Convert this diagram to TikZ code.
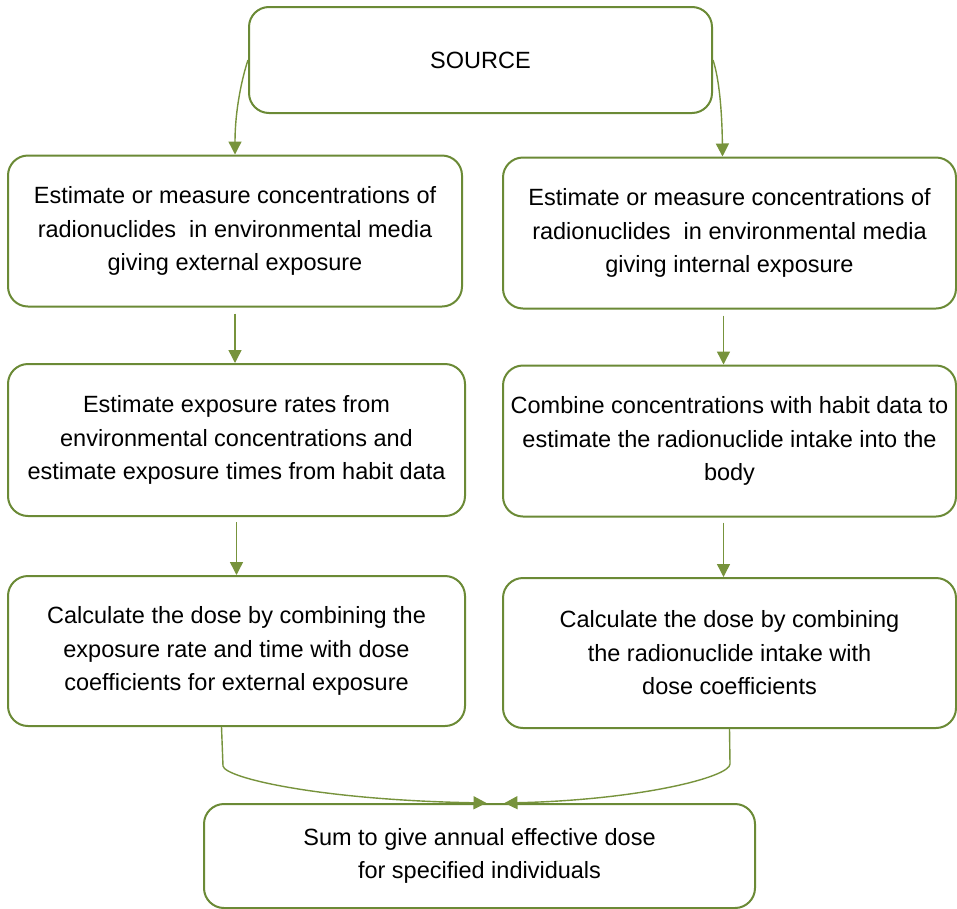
\documentclass[tikz,border=0pt]{standalone}
\usepackage{fontspec}
\setmainfont{Liberation Sans}
\usetikzlibrary{arrows.meta,calc}
\definecolor{boxgreen}{HTML}{6B8A36}
\definecolor{arrgreen}{HTML}{77933C}
\begin{document}
\begin{tikzpicture}[x=1pt,y=-1pt,
  box/.style={draw=boxgreen,line width=2pt,rounded corners=20pt,fill=white,
    align=center,inner sep=0pt,font=\fontsize{23.5}{33.5}\selectfont},
  arr/.style={draw=arrgreen,line width=1.4pt,-{Triangle[length=13pt,width=13pt]}},
  conn/.style={draw=arrgreen,line width=1.4pt}]
\useasboundingbox (0,0) rectangle (957,908);
\fill[white] (0,0) rectangle (957,908);

\node[box,minimum width=463pt,minimum height=106pt] (src) at (480.5,60) {SOURCE};
\node[box,minimum width=454pt,minimum height=151pt] (l1) at (235,231)
  {Estimate or measure concentrations of\\radionuclides\ \ in environmental media\\giving external exposure};
\node[box,minimum width=453pt,minimum height=151pt] (r1) at (729.5,233)
  {Estimate or measure concentrations of\\radionuclides\ \ in environmental media\\giving internal exposure};
\node[box,minimum width=457pt,minimum height=152pt] (l2) at (236.5,440)
  {Estimate exposure rates from\\environmental concentrations and\\estimate exposure times from habit data};
\node[box,minimum width=453pt,minimum height=151pt] (r2) at (729.5,441)
  {Combine concentrations with habit data to\\estimate the radionuclide intake into the\\body};
\node[box,minimum width=457pt,minimum height=150pt] (l3) at (236.5,651)
  {Calculate the dose by combining the\\exposure rate and time with dose\\coefficients for external exposure};
\node[box,minimum width=453pt,minimum height=150pt] (r3) at (729.5,653)
  {Calculate the dose by combining\\the radionuclide intake with\\dose coefficients};
\node[box,minimum width=551pt,minimum height=104pt] (bot) at (479.5,856)
  {Sum to give annual effective dose\\for specified individuals};

% source to first row
\draw[arr] (src.west) .. controls (242,78) and (235,110) .. (l1.north);
\coordinate (r1in) at ($(r1.north)+(-7,0)$);
\draw[arr] (src.east) .. controls (719,78) and (722,110) .. (r1in);

% vertical steps
\draw[arr,shorten <=6pt] (l1.south) -- (l1.south |- l2.north);
\draw[arr,shorten <=6pt] ($(r1.south)+(-6,0)$) -- ($(r2.north)+(-6,0)$);
\draw[arr,shorten <=5pt] (l2.south) -- (l2.south |- l3.north);
\draw[arr,shorten <=5pt] ($(r2.south)+(-6,0)$) -- ($(r3.north)+(-6,0)$);

% to bottom box
\coordinate (lbend) at (223,766);
\coordinate (rbend) at (730,764);
\coordinate (ltip) at ($(bot.north)+(7,0)$);
\coordinate (rtip) at ($(bot.north)+(25,0)$);
\draw[arr] ($(l3.south)+(-15,0)$) -- (lbend) .. controls (225,778) and (320,800) .. (ltip);
\draw[arr] (r3.south) -- (rbend) .. controls (730,777) and (640,800) .. (rtip);
\end{tikzpicture}
\end{document}
